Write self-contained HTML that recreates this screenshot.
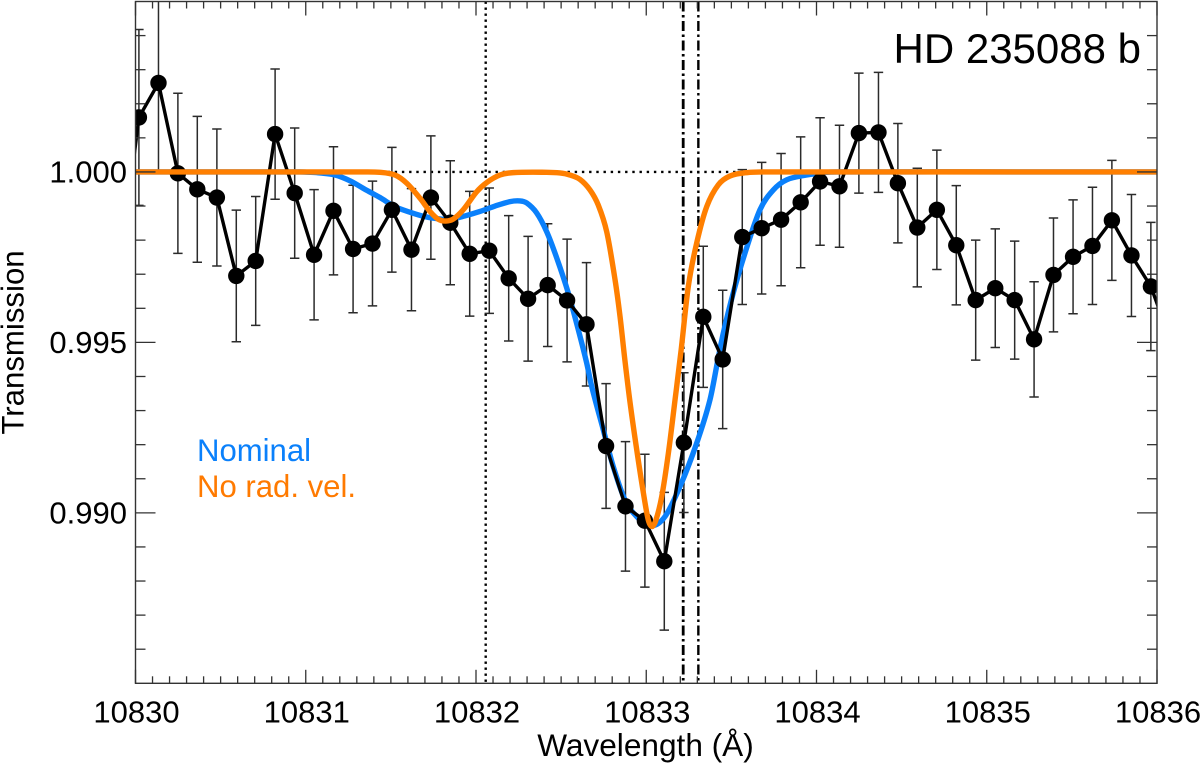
<!DOCTYPE html>
<html>
<head>
<meta charset="utf-8">
<title>HD 235088 b transmission</title>
<style>
html,body{margin:0;padding:0;background:#fff;width:1200px;height:765px;overflow:hidden}
svg{display:block}
text{font-family:"Liberation Sans",sans-serif;fill:#000}
</style>
</head>
<body>
<svg id="chart" xmlns="http://www.w3.org/2000/svg" width="1200" height="765" viewBox="0 0 1200 765">
  <defs><clipPath id="plot-clip"><rect x="135.5" y="1.5" width="1021.5" height="681.8"></rect></clipPath></defs>
  <g id="refs" clip-path="url(#plot-clip)"></g>
  <g id="errs" clip-path="url(#plot-clip)"></g>
  <g id="series" clip-path="url(#plot-clip)"></g>
  <g id="axes"></g>
  <text x="893.5" y="63" font-size="42">HD 235088 b</text>
  <text x="197" y="461" font-size="31.1" style="fill:#0a80fb">Nominal</text>
  <text x="197" y="497" font-size="31.1" style="fill:#ff7a00">No rad. vel.</text>
  <text x="645.5" y="756" font-size="31.6" text-anchor="middle">Wavelength (Å)</text>
  <text transform="translate(23.5,342.5) rotate(-90)" font-size="31.2" text-anchor="middle">Transmission</text>
</svg>
<script>
const obsWave = [10829.906,10830.020,10830.135,10830.249,10830.363,10830.478,10830.592,10830.706,10830.820,10830.935,10831.049,10831.163,10831.278,10831.392,10831.506,10831.621,10831.735,10831.849,10831.963,10832.078,10832.192,10832.306,10832.421,10832.535,10832.649,10832.764,10832.878,10832.992,10833.106,10833.221,10833.335,10833.449,10833.564,10833.678,10833.792,10833.907,10834.021,10834.135,10834.249,10834.364,10834.478,10834.592,10834.707,10834.821,10834.935,10835.050,10835.164,10835.278,10835.392,10835.507,10835.621,10835.735,10835.850,10835.964,10836.078];
const obsFlux = [0.99704,1.00160,1.00261,0.99996,0.99949,0.99925,0.99695,0.99739,1.00111,0.99938,0.99757,0.99886,0.99774,0.99790,0.99889,0.99772,0.99925,0.99851,0.99760,0.99769,0.99688,0.99628,0.99668,0.99623,0.99553,0.99196,0.99019,0.98977,0.98858,0.99206,0.99575,0.99450,0.99809,0.99835,0.99860,0.99911,0.99972,0.99958,1.00114,1.00116,0.99967,0.99837,0.99889,0.99785,0.99624,0.99659,0.99624,0.99509,0.99698,0.99751,0.99783,0.99858,0.99755,0.99664,0.99507];
const obsErr = [0.00258,0.00258,0.00258,0.00235,0.00214,0.00201,0.00193,0.00189,0.00191,0.00191,0.00191,0.00188,0.00187,0.00183,0.00183,0.00179,0.00181,0.00182,0.00183,0.00184,0.00184,0.00183,0.00180,0.00180,0.00181,0.00183,0.00190,0.00195,0.00202,0.00205,0.00207,0.00203,0.00198,0.00193,0.00194,0.00192,0.00187,0.00179,0.00176,0.00176,0.00175,0.00174,0.00175,0.00175,0.00176,0.00174,0.00173,0.00169,0.00167,0.00167,0.00172,0.00176,0.00179,0.00188,0.00188];

const nominalWave = [10830.000,10830.966,10831.025,10831.084,10831.172,10831.260,10831.348,10831.436,10831.524,10831.612,10831.700,10831.789,10831.847,10831.935,10832.023,10832.112,10832.200,10832.258,10832.298,10832.356,10832.415,10832.474,10832.542,10832.601,10832.650,10832.680,10832.748,10832.806,10832.875,10832.944,10833.032,10833.110,10833.198,10833.296,10833.374,10833.423,10833.453,10833.511,10833.580,10833.668,10833.746,10833.825,10833.942,10834.038,10834.138,10836.000];
const nominalFlux = [1.00000,1.00000,0.99999,0.99997,0.99991,0.99974,0.99949,0.99925,0.99898,0.99882,0.99869,0.99862,0.99861,0.99871,0.99884,0.99900,0.99913,0.99915,0.99909,0.99880,0.99825,0.99748,0.99645,0.99537,0.99440,0.99370,0.99243,0.99136,0.99038,0.98989,0.98962,0.98989,0.99077,0.99204,0.99331,0.99455,0.99528,0.99645,0.99762,0.99889,0.99947,0.99977,0.99991,0.99998,1.00000,1.00000];

const noRadVelWave = [10830.000,10831.319,10831.436,10831.524,10831.593,10831.671,10831.730,10831.779,10831.822,10831.867,10831.925,10832.004,10832.063,10832.141,10832.219,10832.415,10832.493,10832.552,10832.611,10832.670,10832.718,10832.768,10832.817,10832.846,10832.875,10832.905,10832.944,10832.983,10833.012,10833.034,10833.057,10833.091,10833.130,10833.169,10833.205,10833.247,10833.296,10833.355,10833.423,10833.492,10833.590,10833.727,10836.000];
const noRadVelFlux = [1.00000,1.00000,0.99999,0.99991,0.99967,0.99923,0.99884,0.99861,0.99856,0.99862,0.99889,0.99942,0.99969,0.99991,0.99998,0.99999,0.99997,0.99991,0.99978,0.99947,0.99903,0.99824,0.99683,0.99576,0.99446,0.99323,0.99185,0.99059,0.98979,0.98960,0.98979,0.99048,0.99175,0.99331,0.99478,0.99664,0.99791,0.99898,0.99962,0.99988,0.99998,1.00000,1.00000];

const xTickValues = [10830,10831,10832,10833,10834,10835,10836];
const xTickLabels = ["10830","10831","10832","10833","10834","10835","10836"];
const yTickValues = [0.990,0.995,1.000];
const yTickLabels = ["0.990","0.995","1.000"];
const dottedLineWave = [10832.057];
const dashDotLineWave = [10833.217,10833.306];

const NS = 'http://www.w3.org/2000/svg';
const L = 135.5, R = 1157, T = 1.5, B = 683.3;
const X0 = 10830, X1 = 10836, Y0 = 0.985, Y1 = 1.005;
function sx(w){ return L + (w - X0) / (X1 - X0) * (R - L); }
function sy(v){ return B - (v - Y0) / (Y1 - Y0) * (B - T); }
function make(parent, tag, attrs){
  const el = document.createElementNS(NS, tag);
  for (const k in attrs) el.setAttribute(k, attrs[k]);
  parent.appendChild(el);
  return el;
}
function smoothPath(ws, vs){
  const p = ws.map((w, i) => [sx(w), sy(vs[i])]);
  let d = 'M' + p[0][0].toFixed(2) + ' ' + p[0][1].toFixed(2);
  for (let i = 0; i < p.length - 1; i++){
    const a = p[Math.max(i - 1, 0)], b = p[i], c = p[i + 1], e = p[Math.min(i + 2, p.length - 1)];
    const dx = c[0] - b[0];
    const m1 = (c[1] - a[1]) / Math.max(c[0] - a[0], 0.01);
    const m2 = (e[1] - b[1]) / Math.max(e[0] - b[0], 0.01);
    d += 'C' + (b[0] + dx / 3).toFixed(2) + ' ' + (b[1] + m1 * dx / 3).toFixed(2) + ' ' +
         (c[0] - dx / 3).toFixed(2) + ' ' + (c[1] - m2 * dx / 3).toFixed(2) + ' ' +
         c[0].toFixed(2) + ' ' + c[1].toFixed(2);
  }
  return d;
}

const refs = document.getElementById('refs');
const errs = document.getElementById('errs');
const series = document.getElementById('series');
const axes = document.getElementById('axes');

const unity = make(refs, 'line', {x1: L, x2: R, y1: sy(1), y2: sy(1), stroke: '#000', 'stroke-width': 2.4, 'stroke-dasharray': '2.4 4.8'});


dottedLineWave.forEach(w => {
  const el = make(refs, 'line', {x1: sx(w), x2: sx(w), y1: T, y2: B, stroke: '#000', 'stroke-width': 2.4, 'stroke-dasharray': '2.4 3.6'});
  
  
});
dashDotLineWave.forEach((w, i) => {
  const el = make(refs, 'line', {x1: sx(w), x2: sx(w), y1: T, y2: B, stroke: '#000', 'stroke-width': i === 0 ? 2.8 : 2.4, 'stroke-dasharray': '10 3.5 2.5 3.5'});
  
  
});

obsWave.forEach((w, i) => {
  const x = sx(w), hi = sy(obsFlux[i] + obsErr[i]), lo = sy(obsFlux[i] - obsErr[i]);
  const d = 'M' + x + ' ' + hi + 'V' + lo + 'M' + (x - 4.7) + ' ' + hi + 'H' + (x + 4.7) + 'M' + (x - 4.7) + ' ' + lo + 'H' + (x + 4.7);
  const el = make(errs, 'path', {d: d, fill: 'none', stroke: '#2b2b2b', 'stroke-width': 1.5});
  
  
});

const nominal = make(series, 'path', {d: smoothPath(nominalWave, nominalFlux), fill: 'none', stroke: '#0a80fb', 'stroke-width': 5.4, 'stroke-linejoin': 'round'});



const obsLine = make(series, 'polyline', {points: obsWave.map((w, i) => sx(w).toFixed(2) + ',' + sy(obsFlux[i]).toFixed(2)).join(' '), fill: 'none', stroke: '#000', 'stroke-width': 3.4, 'stroke-linejoin': 'round'});


obsWave.forEach((w, i) => {
  const el = make(series, 'circle', {cx: sx(w), cy: sy(obsFlux[i]), r: 8.2, fill: '#000'});
  
  
});

const noRadVel = make(series, 'path', {d: smoothPath(noRadVelWave, noRadVelFlux), fill: 'none', stroke: '#ff7f00', 'stroke-width': 5.4, 'stroke-linejoin': 'round'});



const frame = make(axes, 'rect', {x: L, y: T, width: R - L, height: B - T, fill: 'none', stroke: '#333', 'stroke-width': 1.4});



for (let i = 1; i < 60; i++){
  if (i % 10 === 0) continue;
  const x = sx(X0 + i * 0.1);
  const b = make(axes, 'line', {x1: x, x2: x, y1: B, y2: B - 7, stroke: '#333', 'stroke-width': 1.3});
  
  
  const t = make(axes, 'line', {x1: x, x2: x, y1: T, y2: T + 7, stroke: '#333', 'stroke-width': 1.3});
  
  
}
xTickValues.forEach((v, i) => {
  const x = sx(v);
  const b = make(axes, 'line', {x1: x, x2: x, y1: B, y2: B - 13.5, stroke: '#333', 'stroke-width': 1.3});
  
  
  const t = make(axes, 'line', {x1: x, x2: x, y1: T, y2: T + 14, stroke: '#333', 'stroke-width': 1.3});
  
  
  const lab = make(axes, 'text', {x: x + 1, y: 722.7, 'font-size': 31, 'text-anchor': 'middle'});
  lab.textContent = xTickLabels[i];
  
  
});

for (let i = 1; i < 20; i++){
  if (i % 5 === 0) continue;
  const y = sy(Y0 + i * 0.001);
  const l = make(axes, 'line', {x1: L, x2: L + 10, y1: y, y2: y, stroke: '#333', 'stroke-width': 1.3});
  
  
  const r = make(axes, 'line', {x1: R, x2: R - 10, y1: y, y2: y, stroke: '#333', 'stroke-width': 1.3});
  
  
}
yTickValues.forEach((v, i) => {
  const y = sy(v);
  const l = make(axes, 'line', {x1: L, x2: L + 20, y1: y, y2: y, stroke: '#333', 'stroke-width': 1.3});
  
  
  const r = make(axes, 'line', {x1: R, x2: R - 20, y1: y, y2: y, stroke: '#333', 'stroke-width': 1.3});
  
  
  const lab = make(axes, 'text', {x: 127, y: y + 10.5, 'font-size': 31, 'text-anchor': 'end'});
  lab.textContent = yTickLabels[i];
  
  
});
</script>
</body>
</html>
